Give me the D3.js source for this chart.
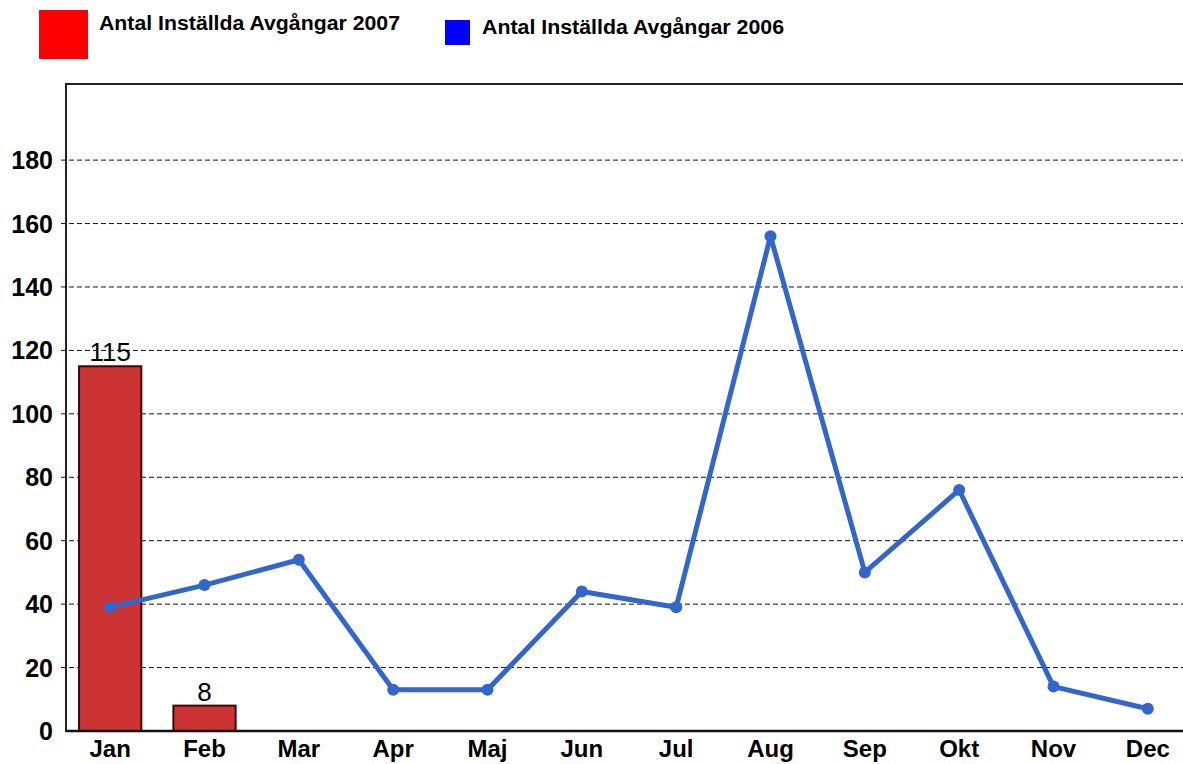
<!DOCTYPE html>
<html>
<head>
<meta charset="utf-8">
<script src="https://cdn.jsdelivr.net/npm/d3@7"></script>
<style>
  body { margin: 0; background: #fff; }
  text { font-family: Arial, "Liberation Sans", sans-serif; }
</style>
</head>
<body>
<svg id="chart"></svg>
<script>
// data
var months = ["Jan", "Feb", "Mar", "Apr", "Maj", "Jun", "Jul", "Aug", "Sep", "Okt", "Nov", "Dec"]
var cancelled2007 = [115, 8]
var cancelled2006 = [39, 46, 54, 13, 13, 44, 39, 156, 50, 76, 14, 7]
var yTicks = [0, 20, 40, 60, 80, 100, 120, 140, 160, 180]

var width = 1183, height = 764
var svg = d3.select("#chart")
    .attr("width", width)
    .attr("height", height)

var plotLeft = 66, plotTop = 84, plotBottom = 731, plotRight = 1200

var x = d3.scaleBand()
    .domain(months)
    .range([63, 1195])
    .paddingInner(0.34)
    .paddingOuter(0.17)

var y = d3.scaleLinear()
    .domain([0, 204])
    .range([plotBottom, plotTop])

// frame
svg.append("rect")
    .attr("x", plotLeft)
    .attr("y", plotTop)
    .attr("width", plotRight - plotLeft)
    .attr("height", plotBottom - plotTop)
    .attr("fill", "none")
    .attr("stroke", "#222")
    .attr("stroke-width", 2)

// grid
svg.append("g")
    .selectAll("line")
    .data(yTicks.filter(d => d > 0))
    .enter()
    .append("line")
        .attr("x1", 61)
        .attr("x2", plotRight)
        .attr("y1", d => y(d))
        .attr("y2", d => y(d))
        .attr("stroke", "#111")
        .attr("stroke-width", 1)
        .attr("stroke-dasharray", "5,3")

// y labels
svg.append("g")
    .selectAll("text")
    .data(yTicks)
    .enter()
    .append("text")
        .attr("x", 53)
        .attr("y", d => y(d) + 9)
        .attr("text-anchor", "end")
        .attr("font-size", "25px")
        .attr("font-weight", "bold")
        .attr("fill", "#000")
        .text(d => d)

// bars 2007
var bars = months.slice(0, cancelled2007.length).map((m, i) => [m, cancelled2007[i]])
svg.append("g")
    .selectAll("rect")
    .data(bars)
    .enter()
    .append("rect")
        .attr("x", d => x(d[0]))
        .attr("y", d => y(d[1]))
        .attr("width", x.bandwidth())
        .attr("height", d => y(0) - y(d[1]))
        .attr("fill", "#cc3333")
        .attr("stroke", "#3a0a0a")
        .attr("stroke-width", 2)

svg.append("g")
    .selectAll("text")
    .data(bars)
    .enter()
    .append("text")
        .attr("x", d => x(d[0]) + x.bandwidth() / 2)
        .attr("y", d => y(d[1]) - 5)
        .attr("text-anchor", "middle")
        .attr("font-size", "26px")
        .attr("fill", "#000")
        .text(d => d[1])

// x axis line
svg.append("line")
    .attr("x1", plotLeft)
    .attr("x2", plotRight)
    .attr("y1", plotBottom)
    .attr("y2", plotBottom)
    .attr("stroke", "#111")
    .attr("stroke-width", 2.5)

// x labels
svg.append("g")
    .selectAll("text")
    .data(months)
    .enter()
    .append("text")
        .attr("x", d => x(d) + x.bandwidth() / 2)
        .attr("y", 757)
        .attr("text-anchor", "middle")
        .attr("font-size", "24px")
        .attr("font-weight", "bold")
        .attr("fill", "#000")
        .text(d => d)

// line 2006
var pts = months.map((m, i) => [m, cancelled2006[i]])
var line = d3.line()
    .x(d => x(d[0]) + x.bandwidth() / 2)
    .y(d => y(d[1]))

svg.append("path")
    .datum(pts)
    .attr("d", line)
    .attr("fill", "none")
    .attr("stroke", "#3366cc")
    .attr("stroke-width", 5)
    .attr("stroke-linejoin", "round")

svg.append("g")
    .selectAll("circle")
    .data(pts)
    .enter()
    .append("circle")
        .attr("cx", d => x(d[0]) + x.bandwidth() / 2)
        .attr("cy", d => y(d[1]))
        .attr("r", 6)
        .attr("fill", "#3366cc")

// legend
svg.append("rect")
    .attr("x", 39).attr("y", 10)
    .attr("width", 49).attr("height", 49)
    .attr("fill", "#ff0000")
svg.append("text")
    .attr("x", 99).attr("y", 30)
    .attr("font-size", "20px")
    .attr("font-weight", "bold")
    .attr("textLength", 301)
    .attr("lengthAdjust", "spacingAndGlyphs")
    .text("Antal Inställda Avgångar 2007")

svg.append("rect")
    .attr("x", 445).attr("y", 20)
    .attr("width", 25).attr("height", 25)
    .attr("fill", "#0000ff")
svg.append("text")
    .attr("x", 482).attr("y", 34)
    .attr("font-size", "20px")
    .attr("font-weight", "bold")
    .attr("textLength", 302)
    .attr("lengthAdjust", "spacingAndGlyphs")
    .text("Antal Inställda Avgångar 2006")
</script>
</body>
</html>
